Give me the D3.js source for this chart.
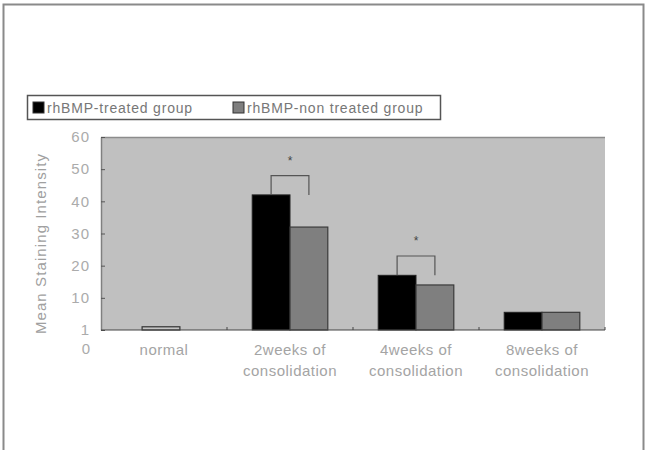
<!DOCTYPE html>
<html>
<head>
<meta charset="utf-8">
<script src="https://cdn.jsdelivr.net/npm/d3@7"></script>
<style>
  body { margin: 0; background: #fff; }
  text { font-family: "Liberation Sans", Arial, sans-serif; }
</style>
</head>
<body>
<div class="chart"></div>
<script>
// data
var categories = ["normal", "2weeks of|consolidation", "4weeks of|consolidation", "8weeks of|consolidation"];
var treated = [0, 42, 17, 5.5];
var nonTreated = [0, 32, 14, 5.5];
var normalValue = [1, 0, 0, 0];
var significant = [false, true, true, false];
var seriesNames = ["rhBMP-treated group", "rhBMP-non treated group"];
var yTicks = [0, 10, 20, 30, 40, 50, 60];

var svgWidth = 647, svgHeight = 450;
var plot = { left: 101, right: 605, top: 137, bottom: 330 };

var svg = d3.select(".chart")
    .append("svg")
    .attr("width", svgWidth)
    .attr("height", svgHeight);

// outer frame
svg.append("rect")
    .attr("x", 3.5).attr("y", 4.5)
    .attr("width", 640).attr("height", 460)
    .attr("fill", "none")
    .attr("stroke", "#8a8a8a")
    .attr("stroke-width", 2);

var x = d3.scaleBand()
    .domain(categories)
    .range([plot.left, plot.right]);

var xInner = d3.scaleBand()
    .domain(seriesNames)
    .range([x.bandwidth() * 0.2, x.bandwidth() * 0.8]);

var y = d3.scaleLinear()
    .domain([0, 60])
    .range([plot.bottom, plot.top]);

// plot background
svg.append("rect")
    .attr("x", plot.left).attr("y", plot.top)
    .attr("width", plot.right - plot.left)
    .attr("height", plot.bottom - plot.top)
    .attr("fill", "#c0c0c0");

svg.append("line")
    .attr("x1", plot.left).attr("x2", plot.right)
    .attr("y1", plot.top + 0.5).attr("y2", plot.top + 0.5)
    .attr("stroke", "#8c8c8c").attr("stroke-width", 1.5);

// y axis
var leftAxis = d3.axisLeft(y)
    .tickValues(yTicks)
    .tickSizeInner(-4)
    .tickSizeOuter(0)
    .tickPadding(11)
    .tickFormat(function(d) { return d === 0 ? "1" : d; });

var yAxis = svg.append("g")
    .attr("transform", "translate(" + plot.left + ",0)")
    .call(leftAxis);
yAxis.select(".domain").attr("stroke", "#808080").attr("stroke-width", 1.5);
yAxis.selectAll(".tick line").attr("stroke", "#555");
yAxis.selectAll(".tick text")
    .attr("font-size", "15px")
    .attr("letter-spacing", "1px")
    .attr("fill", "#ababab");

// the stray "0" under the baseline
svg.append("text")
    .attr("x", plot.left - 11)
    .attr("y", y(0) + 19)
    .attr("text-anchor", "end")
    .attr("dy", "0.32em")
    .attr("font-size", "15px")
    .attr("fill", "#ababab")
    .text("0");

// y title
svg.append("text")
    .attr("transform", "translate(46," + ((plot.top + plot.bottom) / 2 + 10) + ") rotate(-90)")
    .attr("text-anchor", "middle")
    .attr("font-size", "15px")
    .attr("letter-spacing", "1.1px")
    .attr("fill", "#a0a0a0")
    .text("Mean Staining Intensity");

// bars
var groups = svg.selectAll(".cat")
    .data(categories)
    .enter()
    .append("g")
    .attr("class", "cat")
    .attr("transform", function(d) { return "translate(" + x(d) + ",0)"; });

groups.each(function(d, i) {
    var g = d3.select(this);
    if (normalValue[i] > 0) {
        g.append("rect")
            .attr("x", x.bandwidth() / 2 - xInner.bandwidth() / 2 - 3)
            .attr("y", y(normalValue[i]))
            .attr("width", xInner.bandwidth())
            .attr("height", y(0) - y(normalValue[i]))
            .attr("fill", "#c4c4c4")
            .attr("stroke", "#333")
            .attr("stroke-width", 1.2);
    }
    if (treated[i] > 0) {
        g.append("rect")
            .attr("x", xInner(seriesNames[0]))
            .attr("y", y(treated[i]))
            .attr("width", xInner.bandwidth())
            .attr("height", y(0) - y(treated[i]))
            .attr("fill", "#000")
            .attr("stroke", "#222");
    }
    if (nonTreated[i] > 0) {
        g.append("rect")
            .attr("x", xInner(seriesNames[1]))
            .attr("y", y(nonTreated[i]))
            .attr("width", xInner.bandwidth())
            .attr("height", y(0) - y(nonTreated[i]))
            .attr("fill", "#7f7f7f")
            .attr("stroke", "#3a3a3a")
            .attr("stroke-width", 1.2);
    }
    if (significant[i]) {
        var xa = xInner(seriesNames[0]) + xInner.bandwidth() / 2;
        var xb = xInner(seriesNames[1]) + xInner.bandwidth() / 2;
        var top = treated[i] + 6;
        g.append("path")
            .attr("d", "M" + xa + "," + y(treated[i]) + "V" + y(top) + "H" + xb + "V" + y(treated[i]))
            .attr("fill", "none")
            .attr("stroke", "#555")
            .attr("stroke-width", 1.2);
        g.append("text")
            .attr("x", (xa + xb) / 2)
            .attr("y", y(top) - 11)
            .attr("text-anchor", "middle")
            .attr("font-size", "12px")
            .attr("fill", "#444")
            .text("*");
    }
});

// x axis baseline and ticks at band edges
svg.append("line")
    .attr("x1", plot.left).attr("x2", plot.right)
    .attr("y1", plot.bottom).attr("y2", plot.bottom)
    .attr("stroke", "#444").attr("stroke-width", 1.2);

svg.selectAll(".xtick")
    .data(categories)
    .enter()
    .append("line")
    .attr("class", "xtick")
    .attr("x1", function(d) { return x(d) + x.bandwidth(); })
    .attr("x2", function(d) { return x(d) + x.bandwidth(); })
    .attr("y1", plot.bottom)
    .attr("y2", plot.bottom - 3)
    .attr("stroke", "#444");

// x labels
var xLabels = svg.selectAll(".xlabel")
    .data(categories)
    .enter()
    .append("text")
    .attr("class", "xlabel")
    .attr("text-anchor", "middle")
    .attr("font-size", "15px")
    .attr("letter-spacing", "0.5px")
    .attr("fill", "#a4a4a4");

xLabels.each(function(d) {
    var parts = d.split("|");
    var t = d3.select(this);
    parts.forEach(function(p, k) {
        t.append("tspan")
            .attr("x", x(d) + x.bandwidth() / 2)
            .attr("y", plot.bottom + 25 + k * 21)
            .text(p);
    });
});

// legend
var legend = svg.append("g");
legend.append("rect")
    .attr("x", 27.5).attr("y", 95.5)
    .attr("width", 413).attr("height", 24)
    .attr("fill", "#fff")
    .attr("stroke", "#555")
    .attr("stroke-width", 1.5);

var legendX = [33, 233];
var legendColors = ["#000", "#7f7f7f"];
seriesNames.forEach(function(name, i) {
    legend.append("rect")
        .attr("x", legendX[i]).attr("y", 102)
        .attr("width", 11).attr("height", 11)
        .attr("fill", legendColors[i])
        .attr("stroke", "#333");
    legend.append("text")
        .attr("x", legendX[i] + 14)
        .attr("y", 112.5)
        .attr("font-size", "14px")
        .attr("letter-spacing", "0.8px")
        .attr("fill", "#777")
        .text(name);
});
</script>
</body>
</html>
